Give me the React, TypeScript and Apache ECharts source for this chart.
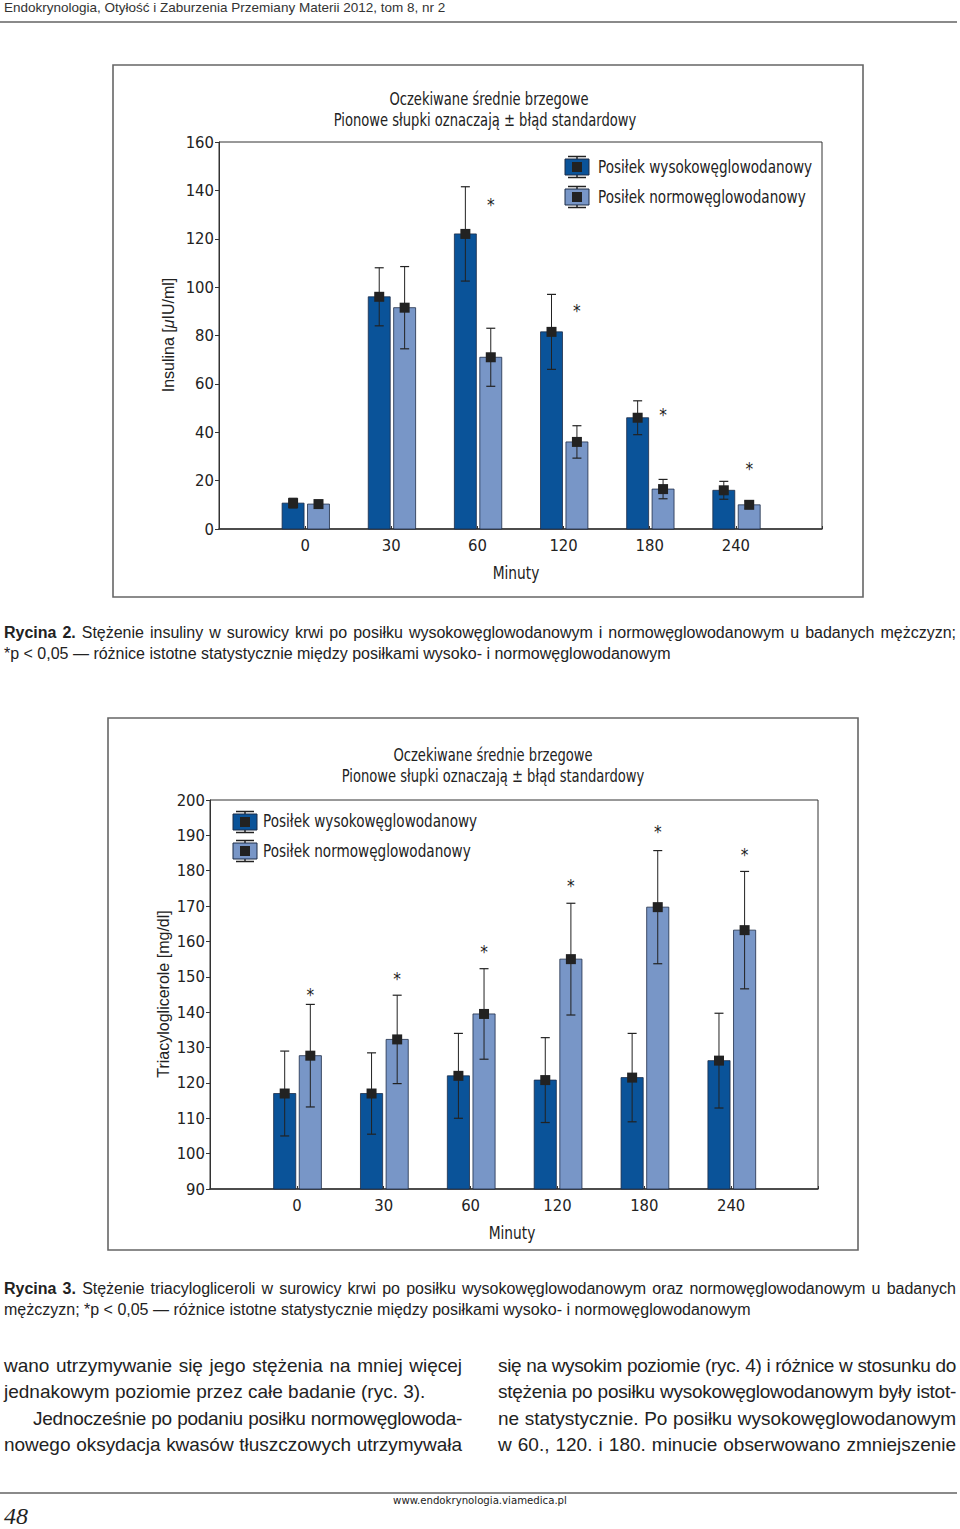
import React, { useEffect, useRef } from "react";
import * as echarts from "echarts";

// ---------- data ----------
const minutes = ["0", "30", "60", "120", "180", "240"];

// Rycina 2 – insulina [µIU/ml]
const insHigh = [10.7, 96, 122, 81.5, 46, 16];
const insHighErr = [2, 12, 19.5, 15.5, 7, 3.7];
const insNorm = [10.3, 91.5, 71, 36, 16.5, 10];
const insNormErr = [1.5, 17, 12, 6.7, 4, 1.5];
const insSig: (number | null)[] = [null, null, 134, 90, 47, 25];
const insTicks = { min: 0, max: 160, interval: 20 };

// Rycina 3 – triacyloglicerole [mg/dl]
const tgHigh = [117, 117, 122, 120.8, 121.5, 126.3];
const tgHighErr = [12, 11.5, 12, 12, 12.5, 13.4];
const tgNorm = [127.7, 132.3, 139.5, 155, 169.7, 163.2];
const tgNormErr = [14.5, 12.5, 12.8, 15.8, 16, 16.6];
const tgSig: (number | null)[] = [145, 149.4, 157, 175.7, 191, 184.5];
const tgTicks = { min: 90, max: 200, interval: 10 };

const legendNames = ["Posiłek wysokowęglowodanowy", "Posiłek normowęglowodanowy"];
const titleLines = ["Oczekiwane średnie brzegowe", "Pionowe słupki oznaczają ± błąd standardowy"];

// ---------- styles ----------
const NARROW = '"DejaVu Sans Condensed", "Liberation Sans Narrow", "Arial Narrow", sans-serif';
const SANS = '"Liberation Sans", Arial, Helvetica, sans-serif';
const DARK = "#0a5399";
const LIGHT = "#7896c7";
const INK = "#222222";

function barSeries(
  gridIdx: number,
  values: number[],
  errs: number[],
  sig: (number | null)[] | null,
  color: string,
  offset: number,
  base: number
) {
  return {
    type: "custom",
    xAxisIndex: gridIdx,
    yAxisIndex: gridIdx,
    data: values.map((v, i) => [i + 1, v, errs[i]]),
    renderItem: (params: any, api: any) => {
      const x = api.value(0);
      const v = api.value(1);
      const e = api.value(2);
      const band = api.size([1, 0])[0];
      const c = api.coord([x, v]);
      const cx = c[0] + offset * band;
      const w = band * 0.255;
      const y0 = api.coord([x, base])[1];
      const yTop = c[1];
      const yHi = api.coord([x, v + e])[1];
      const yLo = api.coord([x, v - e])[1];
      const cap = 4.5;
      const children: any[] = [
        {
          type: "rect",
          shape: { x: cx - w / 2, y: yTop, width: w, height: y0 - yTop },
          style: { fill: color, stroke: "#1d2c47", lineWidth: 0.8 },
        },
        { type: "line", shape: { x1: cx, y1: yHi, x2: cx, y2: yLo }, style: { stroke: INK, lineWidth: 1 } },
        { type: "line", shape: { x1: cx - cap, y1: yHi, x2: cx + cap, y2: yHi }, style: { stroke: INK, lineWidth: 1.2 } },
        { type: "line", shape: { x1: cx - cap, y1: yLo, x2: cx + cap, y2: yLo }, style: { stroke: INK, lineWidth: 1.2 } },
        { type: "rect", shape: { x: cx - 5, y: yTop - 5, width: 10, height: 10 }, style: { fill: INK } },
      ];
      if (sig && sig[params.dataIndex] != null) {
        const ys = api.coord([x, sig[params.dataIndex] as number])[1];
        children.push({
          type: "text",
          x: cx,
          y: ys,
          style: { text: "*", fontSize: 17, fontFamily: NARROW, fill: INK, align: "center", verticalAlign: "middle" },
        });
      }
      return { type: "group", children };
    },
  };
}

function legendIcon(cx: number, cy: number, color: string) {
  return {
    type: "group",
    children: [
      { type: "line", shape: { x1: cx - 9, y1: cy - 10.5, x2: cx + 9, y2: cy - 10.5 }, style: { stroke: INK, lineWidth: 1.5 } },
      { type: "line", shape: { x1: cx, y1: cy - 10.5, x2: cx, y2: cy - 8 }, style: { stroke: INK, lineWidth: 1.5 } },
      { type: "line", shape: { x1: cx - 9, y1: cy + 10.5, x2: cx + 9, y2: cy + 10.5 }, style: { stroke: INK, lineWidth: 1.5 } },
      { type: "line", shape: { x1: cx, y1: cy + 8, x2: cx, y2: cy + 10.5 }, style: { stroke: INK, lineWidth: 1.5 } },
      { type: "rect", shape: { x: cx - 12, y: cy - 8, width: 24, height: 16 }, style: { fill: color, stroke: "#1d2c47", lineWidth: 1 } },
      { type: "rect", shape: { x: cx - 5, y: cy - 5, width: 10, height: 10 }, style: { fill: INK } },
    ],
  };
}

function txt(x: number, y: number, text: string, size: number, align = "center", family = NARROW, extra: any = {}) {
  return {
    type: "text",
    x,
    y,
    ...extra,
    style: { text, fontSize: size, fontFamily: family, fill: INK, align, verticalAlign: "middle", ...(extra.style || {}) },
  };
}

const xCats = ["", ...minutes, ""];

function xAxisDef(gridIndex: number) {
  return {
    type: "category",
    gridIndex,
    data: xCats,
    boundaryGap: false,
    axisLine: { lineStyle: { color: "#333", width: 1.5 } },
    axisTick: { show: true, inside: true, length: 3, lineStyle: { color: "#333" } },
    axisLabel: { color: INK, fontSize: 16.5, fontFamily: NARROW, margin: 8, interval: 0 },
    splitLine: { show: false },
  };
}

function yAxisDef(gridIndex: number, t: { min: number; max: number; interval: number }) {
  return {
    type: "value",
    gridIndex,
    min: t.min,
    max: t.max,
    interval: t.interval,
    axisLine: { show: true, lineStyle: { color: "#333", width: 1 } },
    axisTick: { show: true, length: 4, lineStyle: { color: "#333" } },
    axisLabel: { color: INK, fontSize: 16.5, fontFamily: NARROW, margin: 5 },
    splitLine: { show: false },
  };
}

function Line({ text, w, just = true, indent = 0, size, family }: any) {
  return (
    <div
      className="fitline"
      data-w={w - indent}
      style={{
        width: w - indent,
        marginLeft: indent,
        whiteSpace: "nowrap",
        textAlign: just ? "justify" : "left",
        textAlignLast: just ? "justify" : "left",
        fontSize: size,
        fontFamily: family,
        overflow: "visible",
      }}
    >
      <span>{text}</span>
    </div>
  );
}

const TS = 0.81; // horizontal squeeze for condensed chart texts
const LS = 0.84;

export default function App() {
  const ref = useRef<HTMLDivElement>(null);
  const pageRef = useRef<HTMLDivElement>(null);

  useEffect(() => {
    document.body.style.margin = "0";
    if (pageRef.current) {
      const lines = pageRef.current.querySelectorAll(".fitline");
      lines.forEach((el: any) => {
        const span = el.firstChild as HTMLElement;
        const target = parseFloat(el.getAttribute("data-w"));
        const w = span.getBoundingClientRect().width;
        const n = (span.textContent || "").length;
        if (w > target - 1 && n > 0) {
          el.style.letterSpacing = (target - 1 - w) / n + "px";
        }
      });
    }
    const chart = echarts.init(ref.current!, null, { renderer: "svg" });
    const option: any = {
      animation: false,
      grid: [
        { left: 219, top: 142, width: 603, height: 387, show: true, borderColor: "#333", borderWidth: 1 },
        { left: 210, top: 800, width: 608, height: 389, show: true, borderColor: "#333", borderWidth: 1 },
      ],
      xAxis: [xAxisDef(0), xAxisDef(1)],
      yAxis: [yAxisDef(0, insTicks), yAxisDef(1, tgTicks)],
      series: [
        barSeries(0, insHigh, insHighErr, null, DARK, -0.14, insTicks.min),
        barSeries(0, insNorm, insNormErr, insSig, LIGHT, 0.155, insTicks.min),
        barSeries(1, tgHigh, tgHighErr, null, DARK, -0.14, tgTicks.min),
        barSeries(1, tgNorm, tgNormErr, tgSig, LIGHT, 0.155, tgTicks.min),
      ],
      graphic: [
        // chart 1 frame and texts
        { type: "rect", shape: { x: 113, y: 65, width: 750, height: 532 }, style: { fill: "none", stroke: "#666", lineWidth: 1.6 } },
        txt(489, 99, titleLines[0], 18, "center", NARROW, { scaleX: TS }),
        txt(485, 120, titleLines[1], 18, "center", NARROW, { scaleX: TS }),
        legendIcon(577, 167, DARK),
        legendIcon(577, 197, LIGHT),
        txt(598, 167, legendNames[0], 18, "left", NARROW, { scaleX: LS }),
        txt(598, 197, legendNames[1], 18, "left", NARROW, { scaleX: LS }),
        {
          type: "text",
          x: 168,
          y: 335,
          rotation: Math.PI / 2,
          style: {
            text: "Insulina [{i|μ}IU/ml]",
            fontSize: 16,
            fontFamily: SANS,
            fill: INK,
            align: "center",
            verticalAlign: "middle",
            rich: { i: { fontStyle: "italic", fontSize: 16, fontFamily: SANS, fill: INK } },
          },
        },
        txt(516, 573, "Minuty", 18, "center", NARROW, { scaleX: 0.85 }),
        // chart 2 frame and texts
        { type: "rect", shape: { x: 108, y: 718, width: 750, height: 532 }, style: { fill: "none", stroke: "#666", lineWidth: 1.6 } },
        txt(493, 755, titleLines[0], 18, "center", NARROW, { scaleX: TS }),
        txt(493, 776, titleLines[1], 18, "center", NARROW, { scaleX: TS }),
        legendIcon(245, 822, DARK),
        legendIcon(245, 851, LIGHT),
        txt(263, 821, legendNames[0], 18, "left", NARROW, { scaleX: LS }),
        txt(263, 851, legendNames[1], 18, "left", NARROW, { scaleX: LS }),
        txt(163, 994, "Triacyloglicerole [mg/dl]", 16, "center", SANS, { rotation: Math.PI / 2 }),
        txt(512, 1233, "Minuty", 18, "center", NARROW, { scaleX: 0.85 }),
      ],
    };
    chart.setOption(option);
    return () => chart.dispose();
  }, []);

  const capStyle: any = { position: "absolute", left: 4, width: 952, fontFamily: SANS, fontSize: 16, lineHeight: "21px", color: INK };
  const bodyStyle: any = { position: "absolute", width: 458, fontFamily: SANS, fontSize: 19, lineHeight: "26.4px", color: INK };

  return (
    <div ref={pageRef} style={{ position: "relative", width: 960, height: 1529, overflow: "hidden", background: "#fff" }}>
      <div style={{ position: "absolute", left: 4, top: 0, fontFamily: SANS, fontSize: 13.5, lineHeight: "16px", color: "#333", whiteSpace: "nowrap" }}>
        Endokrynologia, Otyłość i Zaburzenia Przemiany Materii 2012, tom 8, nr 2
      </div>
      <div style={{ position: "absolute", left: 0, top: 21, width: 957, height: 1.5, background: "#8a8a8a" }} />
      <div ref={ref} style={{ position: "absolute", left: 0, top: 0, width: 960, height: 1529 }} />

      <div style={{ ...capStyle, top: 622 }}>
        <Line w={952} size={16} family={SANS} text={<><b>Rycina 2.</b> Stężenie insuliny w surowicy krwi po posiłku wysokowęglowodanowym i normowęglowodanowym u badanych mężczyzn;</>} />
        <Line w={952} just={false} size={16} family={SANS} text="*p < 0,05 — różnice istotne statystycznie między posiłkami wysoko- i normowęglowodanowym" />
      </div>

      <div style={{ ...capStyle, top: 1278 }}>
        <Line w={952} size={16} family={SANS} text={<><b>Rycina 3.</b> Stężenie triacylogliceroli w surowicy krwi po posiłku wysokowęglowodanowym oraz normowęglowodanowym u badanych</>} />
        <Line w={952} just={false} size={16} family={SANS} text="mężczyzn; *p < 0,05 — różnice istotne statystycznie między posiłkami wysoko- i normowęglowodanowym" />
      </div>

      <div style={{ ...bodyStyle, left: 4, top: 1353 }}>
        <Line w={458} size={19} family={SANS} text="wano utrzymywanie się jego stężenia na mniej więcej" />
        <Line w={458} just={false} size={19} family={SANS} text="jednakowym poziomie przez całe badanie (ryc. 3)." />
        <Line w={458} indent={29} size={19} family={SANS} text="Jednocześnie po podaniu posiłku normowęglowoda-" />
        <Line w={458} size={19} family={SANS} text="nowego oksydacja kwasów tłuszczowych utrzymywała" />
      </div>
      <div style={{ ...bodyStyle, left: 498, top: 1353 }}>
        <Line w={458} size={19} family={SANS} text="się na wysokim poziomie (ryc. 4) i różnice w stosunku do" />
        <Line w={458} size={19} family={SANS} text="stężenia po posiłku wysokowęglowodanowym były istot-" />
        <Line w={458} size={19} family={SANS} text="ne statystycznie. Po posiłku wysokowęglowodanowym" />
        <Line w={458} size={19} family={SANS} text="w 60., 120. i 180. minucie obserwowano zmniejszenie" />
      </div>

      <div style={{ position: "absolute", left: 0, top: 1492, width: 957, height: 1.5, background: "#8a8a8a" }} />
      <div style={{ position: "absolute", left: 0, top: 1493, width: 960, textAlign: "center", fontFamily: NARROW, fontSize: 11.3, lineHeight: "15px", color: INK }}>
        www.endokrynologia.viamedica.pl
      </div>
      <div style={{ position: "absolute", left: 4, top: 1505, fontFamily: '"Liberation Serif", "DejaVu Serif", serif', fontStyle: "italic", fontSize: 24, lineHeight: "23px", color: INK }}>
        48
      </div>
    </div>
  );
}
